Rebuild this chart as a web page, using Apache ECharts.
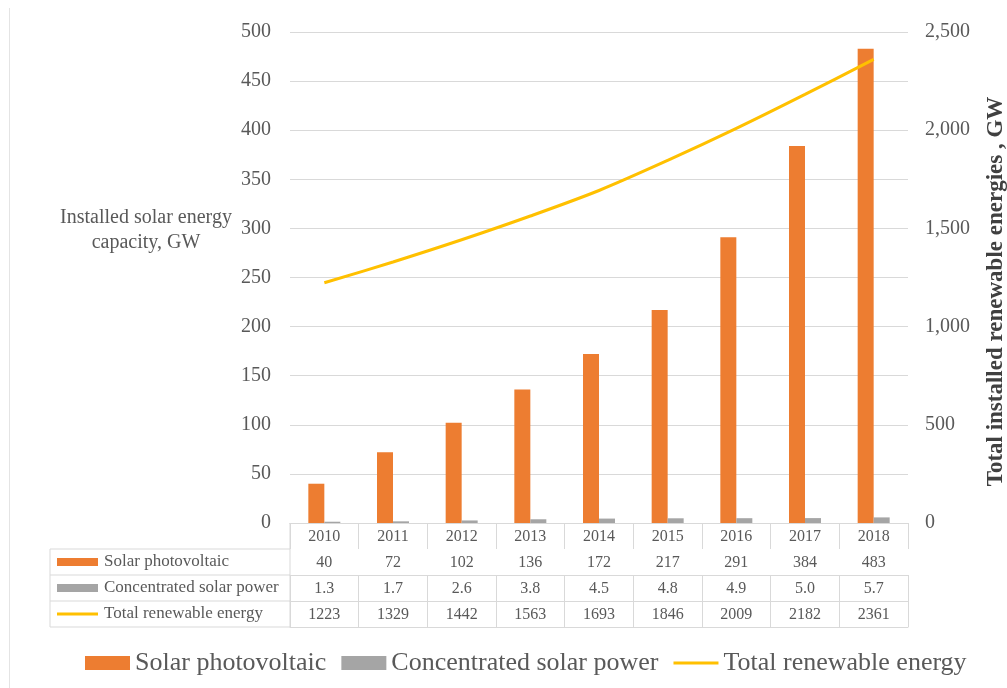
<!DOCTYPE html>
<html>
<head>
<meta charset="utf-8">
<script src="https://cdn.jsdelivr.net/npm/echarts@6/dist/echarts.min.js"></script>
<style>
  html, body { margin: 0; padding: 0; background: #fff; }
  #chart { width: 1007px; height: 688px; }
</style>
</head>
<body>
<div id="chart"></div>
<script>
// Installed capacity, GW
const years = ['2010', '2011', '2012', '2013', '2014', '2015', '2016', '2017', '2018'];
const solarPV = [40, 72, 102, 136, 172, 217, 291, 384, 483];
const cspPower = [1.3, 1.7, 2.6, 3.8, 4.5, 4.8, 4.9, 5.0, 5.7];
const totalRenewable = [1223, 1329, 1442, 1563, 1693, 1846, 2009, 2182, 2361];
const seriesNames = ['Solar photovoltaic', 'Concentrated solar power', 'Total renewable energy'];

const ORANGE = '#ED7D31';
const GREY = '#A5A5A5';
const YELLOW = '#FFC000';
const TEXT = '#595959';
const RULE = '#D9D9D9';
const FONT = 'Liberation Serif';

// plot frame
const G = { left: 290, right: 99, top: 32, bottom: 165 };
const ROW = 26;
const axisY = 688 - G.bottom;

const chart = echarts.init(document.getElementById('chart'), null, { renderer: 'canvas' });

// table rows under the category axis
const rowFormatters = [
  (v, i) => String(solarPV[i]),
  (v, i) => cspPower[i].toFixed(1),
  (v, i) => String(totalRenewable[i])
];

const xAxes = [{
  type: 'category',
  data: years,
  position: 'bottom',
  axisLine: { lineStyle: { color: RULE, width: 1 } },
  axisTick: { show: true, interval: 0, length: ROW, lineStyle: { color: RULE } },
  axisLabel: { color: TEXT, fontFamily: FONT, fontSize: 16, margin: 6, interval: 0 }
}];
rowFormatters.forEach((fmt, k) => {
  xAxes.push({
    type: 'category',
    data: years,
    position: 'bottom',
    offset: ROW * (k + 1),
    axisLine: { lineStyle: { color: RULE, width: 1 } },
    axisTick: { show: true, interval: 0, length: ROW, lineStyle: { color: RULE } },
    axisLabel: { color: TEXT, fontFamily: FONT, fontSize: 16, margin: 6, interval: 0, formatter: fmt }
  });
});
xAxes.push({
  type: 'category',
  data: years,
  position: 'bottom',
  offset: ROW * 4,
  axisLine: { lineStyle: { color: RULE, width: 1 } },
  axisTick: { show: false },
  axisLabel: { show: false }
});

// header column of the data table
const headerIcons = [
  { color: ORANGE, h: 8 },
  { color: GREY, h: 8 },
  { color: YELLOW, h: 3 }
];
const tableGraphics = [];
const tLeft = 50;
for (let k = 1; k <= 4; k++) {
  tableGraphics.push({
    type: 'line', silent: true,
    shape: { x1: tLeft, y1: axisY + ROW * k, x2: G.left, y2: axisY + ROW * k },
    style: { stroke: RULE, lineWidth: 1 }
  });
}
tableGraphics.push({
  type: 'line', silent: true,
  shape: { x1: tLeft, y1: axisY + ROW, x2: tLeft, y2: axisY + ROW * 4 },
  style: { stroke: RULE, lineWidth: 1 }
});
tableGraphics.push({
  type: 'line', silent: true,
  shape: { x1: G.left, y1: axisY, x2: G.left, y2: axisY + ROW * 4 },
  style: { stroke: RULE, lineWidth: 1 }
});
seriesNames.forEach((name, k) => {
  const cy = axisY + ROW * (k + 1) + ROW / 2;
  const ic = headerIcons[k];
  tableGraphics.push({
    type: 'rect', silent: true,
    shape: { x: 57, y: cy - ic.h / 2, width: 41, height: ic.h },
    style: { fill: ic.color }
  });
  tableGraphics.push({
    type: 'text', silent: true,
    x: 104, y: cy,
    style: { text: name, fill: TEXT, font: '17px "Liberation Serif"', verticalAlign: 'middle', align: 'left' }
  });
});

// left axis title
tableGraphics.push({
  type: 'text', silent: true,
  x: 146, y: 230,
  style: {
    text: 'Installed solar energy\ncapacity, GW',
    fill: TEXT, font: '20px "Liberation Serif"', align: 'center', verticalAlign: 'middle', lineHeight: 25
  }
});
// faint page edge on the left
tableGraphics.push({
  type: 'line', silent: true,
  shape: { x1: 9.5, y1: 8, x2: 9.5, y2: 688 },
  style: { stroke: '#E4E4E4', lineWidth: 1 }
});

const option = {
  backgroundColor: '#fff',
  animation: false,
  textStyle: { fontFamily: FONT },
  grid: {
    left: G.left, right: G.right, top: G.top, bottom: G.bottom,
    containLabel: false, outerBoundsMode: 'none'
  },
  legend: {
    bottom: 7,
    left: 80,
    itemWidth: 45,
    itemHeight: 14,
    itemGap: 15,
    symbolKeepAspect: true,
    formatter: '{s|{name}}',
    textStyle: {
      color: TEXT, fontFamily: FONT, fontSize: 26,
      rich: { s: { color: TEXT, fontFamily: FONT, fontSize: 26 } }
    },
    data: [
      { name: seriesNames[0], icon: 'rect' },
      { name: seriesNames[1], icon: 'rect' },
      { name: seriesNames[2], icon: 'path://M0,0 L45,0 L45,3 L0,3 Z' }
    ]
  },
  xAxis: xAxes,
  yAxis: [{
    type: 'value',
    min: 0, max: 500, interval: 50,
    position: 'left',
    axisLine: { show: false },
    axisTick: { show: false },
    splitLine: { lineStyle: { color: RULE, width: 1 } },
    axisLabel: { color: TEXT, fontFamily: FONT, fontSize: 20, margin: 19 }
  }, {
    type: 'value',
    min: 0, max: 2500, interval: 500,
    position: 'right',
    axisLine: { show: false },
    axisTick: { show: false },
    splitLine: { show: false },
    axisLabel: {
      color: TEXT, fontFamily: FONT, fontSize: 20, margin: 17,
      formatter: v => v.toLocaleString('en-US')
    },
    name: 'Total installed renewable energies , GW',
    nameLocation: 'middle',
    nameRotate: 90,
    nameGap: 77,
    nameTextStyle: {
      color: '#404040', fontFamily: FONT, fontSize: 23, fontWeight: 'bold',
      padding: [0, 28, 0, 0]
    }
  }],
  series: [{
    name: seriesNames[0],
    type: 'bar',
    data: solarPV,
    barWidth: 16,
    barGap: '0%',
    itemStyle: { color: ORANGE }
  }, {
    name: seriesNames[1],
    type: 'bar',
    data: cspPower,
    barWidth: 16,
    barGap: '0%',
    itemStyle: { color: GREY }
  }, {
    name: seriesNames[2],
    type: 'line',
    yAxisIndex: 1,
    data: totalRenewable,
    smooth: 0.3,
    symbol: 'none',
    lineStyle: { color: YELLOW, width: 3 },
    itemStyle: { color: YELLOW }
  }],
  graphic: tableGraphics
};

chart.setOption(option);
</script>
</body>
</html>
